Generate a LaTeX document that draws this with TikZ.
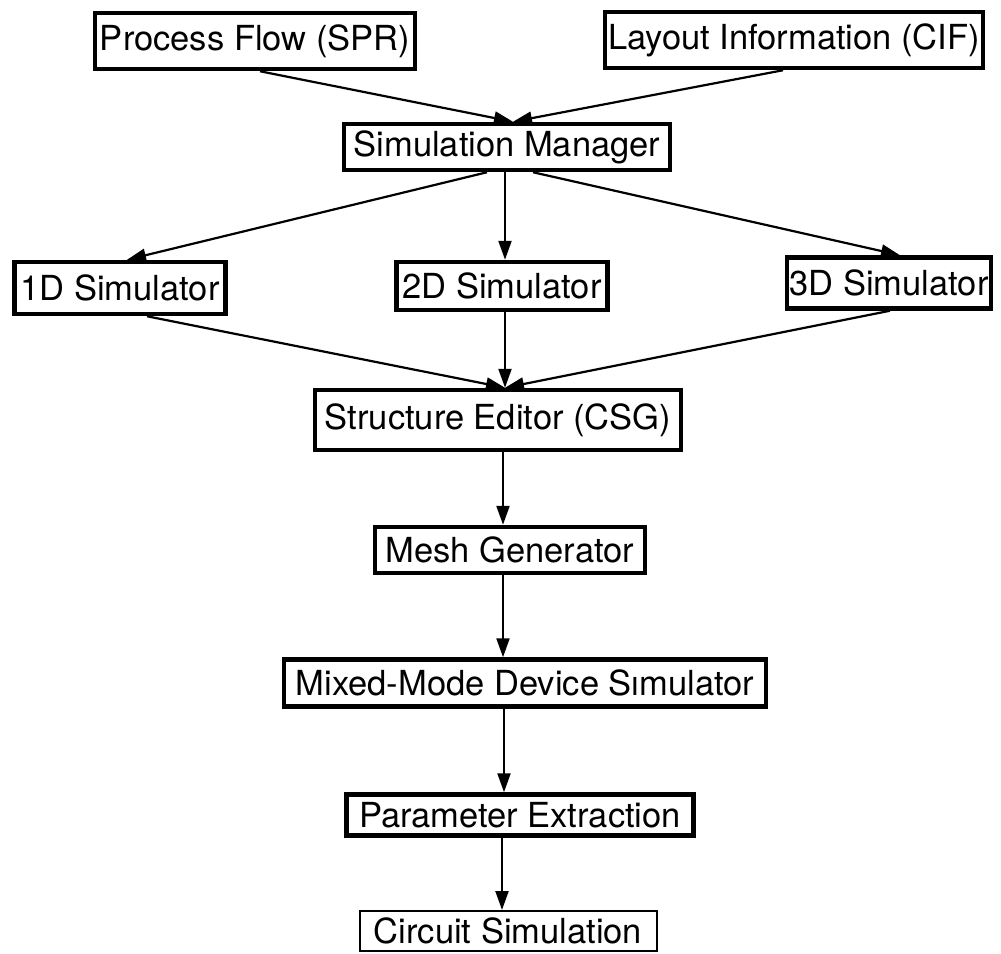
\documentclass[tikz,border=0pt]{standalone}
\usepackage{fontspec}
\setmainfont{TeX Gyre Heros}
\usetikzlibrary{arrows.meta}

\begin{document}
\begin{tikzpicture}[x=1pt, y=-1pt, font=\fontsize{34.5}{41}\selectfont,
    stage/.style={draw, rectangle, line width=4.5pt, inner sep=0pt},
    thinstage/.style={stage, line width=2pt},
    flow/.style={-{Triangle[length=19pt,width=13pt]}, line width=2.2pt}]
    \path[fill=white] (0,0) rectangle (1001,953);
    \node[stage, minimum width=320pt, minimum height=56pt] (process) at (255,41) {Process Flow (SPR)};
    \node[stage, minimum width=378pt, minimum height=56pt] (layout) at (794,40) {Layout Information (CIF)};
    \node[stage, minimum width=326pt, minimum height=46pt] (manager) at (507,147) {Simulation Manager};
    \node[stage, minimum width=211pt, minimum height=52pt] (sim1d) at (120,288) {1D Simulator};
    \node[stage, minimum width=211pt, minimum height=48pt] (sim2d) at (502,286) {2D Simulator};
    \node[stage, minimum width=204pt, minimum height=51pt] (sim3d) at (889,283) {3D Simulator};
    \node[stage, minimum width=366pt, minimum height=60pt] (editor) at (498,420) {Structure Editor (CSG)};
    \node[stage, minimum width=270pt, minimum height=46pt] (mesh) at (510,550) {Mesh Generator};
    \node[stage, minimum width=482pt, minimum height=47pt] (device) at (525,683) {Mixed-Mode Device Sımulator};
    \node[stage, minimum width=347pt, minimum height=41pt] (param) at (520,815) {Parameter Extraction};
    \node[thinstage, minimum width=297pt, minimum height=40pt] (circuit) at (508,931) {Circuit Simulation};
    \draw[flow] ([xshift=5pt]process.south) -- ([xshift=6pt]manager.north);
    \draw[flow] ([xshift=-11pt]layout.south) -- ([xshift=6pt]manager.north);
    \draw[flow] ([xshift=-20pt]manager.south) -- ([xshift=7pt]sim1d.north);
    \draw[flow] ([xshift=-2pt]manager.south) -- ([xshift=3pt]sim2d.north);
    \draw[flow] ([xshift=26pt]manager.south) -- ([xshift=11pt]sim3d.north);
    \draw[flow] ([xshift=27pt]sim1d.south) -- ([xshift=7pt]editor.north);
    \draw[flow] ([xshift=3pt]sim2d.south) -- ([xshift=7pt]editor.north);
    \draw[flow] ([xshift=1pt]sim3d.south) -- ([xshift=7pt]editor.north);
    \draw[flow] ([xshift=5pt]editor.south) -- ([xshift=-7pt]mesh.north);
    \draw[flow] ([xshift=-7pt]mesh.south) -- ([xshift=-22pt]device.north);
    \draw[flow] ([xshift=-21pt]device.south) -- ([xshift=-16pt]param.north);
    \draw[flow] ([xshift=-18pt]param.south) -- ([xshift=-6pt]circuit.north);
\end{tikzpicture}
\end{document}
